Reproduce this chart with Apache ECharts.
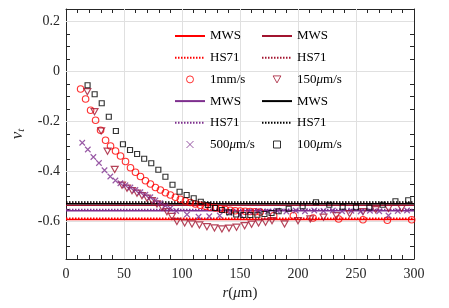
<!DOCTYPE html>
<html>
<head>
<meta charset="utf-8">
<script src="https://cdn.jsdelivr.net/npm/echarts@6/dist/echarts.min.js"></script>
<style>
html,body{margin:0;padding:0;background:#fff;}
#c{width:449px;height:308px;}
</style>
</head>
<body>
<div id="c"></div>
<script>
// ---- data ----
const xTickLabels = [0, 50, 100, 150, 200, 250, 300];
const yTickLabels = [-0.6, -0.4, -0.2, 0, 0.2];
const lineX = [0, 300];

// horizontal model lines (MWS solid, HS71 dotted)
const mwsRed = -0.592, hsRed = -0.587;
const mwsPurple = -0.557, hsPurple = -0.552;
const mwsCrimson = -0.535, hsCrimson = -0.527;
const mwsBlack = -0.529, hsBlack = -0.522;

// 1 mm/s (red circles)
const r1mm = [12.6,16.9,21.2,25.5,29.8,34.1,38.4,42.7,47.0,51.3,55.6,59.9,64.2,68.5,72.8,77.1,81.4,85.7,90.0,94.3,98.6,102.9,107.2,111.5,115.8,120.1,124.4,128.7,133.0,137.3,141.6,145.9,150.2,154.5,158.8,163.1,167.4,179,196,213,235,256,277,298];
const v1mm = [-0.07,-0.11,-0.155,-0.195,-0.235,-0.275,-0.298,-0.318,-0.338,-0.36,-0.385,-0.403,-0.42,-0.437,-0.45,-0.464,-0.474,-0.485,-0.494,-0.503,-0.511,-0.518,-0.524,-0.53,-0.535,-0.539,-0.543,-0.546,-0.549,-0.552,-0.555,-0.557,-0.558,-0.559,-0.56,-0.561,-0.562,-0.577,-0.577,-0.586,-0.59,-0.593,-0.595,-0.593];

// 150 um/s (crimson down triangles)
const r150 = [18.4,24.6,30.3,35.8,42.0,48.3,52.6,56.9,61.2,65.5,69.8,74.1,78.4,82.7,87.0,91.3,95.6,102.3,108.6,115.0,121.5,128.0,134.4,140.5,147.0,154.0,160.0,166.0,172.0,177.6,188.4,200.0,210.6,222.0,233.0,244.5,256.0,267.0,278.0,289.3];
const v150 = [-0.081,-0.161,-0.238,-0.319,-0.392,-0.455,-0.467,-0.477,-0.487,-0.497,-0.507,-0.517,-0.53,-0.543,-0.561,-0.58,-0.6,-0.606,-0.61,-0.614,-0.621,-0.626,-0.63,-0.627,-0.623,-0.617,-0.611,-0.606,-0.603,-0.597,-0.61,-0.597,-0.59,-0.583,-0.577,-0.569,-0.561,-0.553,-0.548,-0.548];

// 500 um/s (purple crosses)
const r500 = [14.0,18.8,23.6,28.4,33.2,38.2,42.6,46.9,51.2,55.5,59.8,64.1,68.4,72.7,77.0,81.3,85.6,89.9,95.0,104.3,114.3,123.5,132.5,141.0,150.3,158,166,174,182,190,198,206,214,222,230,238,246,254,262,270,278,286,294];
const v500 = [-0.285,-0.312,-0.342,-0.366,-0.395,-0.42,-0.436,-0.447,-0.455,-0.464,-0.474,-0.483,-0.493,-0.503,-0.516,-0.527,-0.537,-0.547,-0.558,-0.572,-0.581,-0.579,-0.576,-0.565,-0.573,-0.561,-0.558,-0.56,-0.557,-0.56,-0.556,-0.559,-0.556,-0.558,-0.556,-0.559,-0.557,-0.56,-0.557,-0.559,-0.576,-0.558,-0.556];

// 100 um/s (black squares)
const r100 = [18.6,24.7,30.8,36.9,43.0,49.1,55.2,61.3,67.4,73.5,79.6,85.7,91.8,97.9,104.0,110.1,116.2,122.3,128.4,134.5,140.6,146.7,152.8,158.9,165.0,171.1,177.2,183.3,192,204,215.5,227,238.5,250,261.5,273,284,295];
const v100 = [-0.055,-0.091,-0.127,-0.181,-0.238,-0.291,-0.314,-0.33,-0.349,-0.367,-0.393,-0.421,-0.453,-0.481,-0.494,-0.507,-0.521,-0.534,-0.546,-0.554,-0.563,-0.572,-0.574,-0.574,-0.573,-0.57,-0.566,-0.559,-0.549,-0.539,-0.523,-0.533,-0.541,-0.543,-0.544,-0.533,-0.519,-0.515];

const gridX = [50, 100, 150, 200, 250];
const gridY = [0.2, 0, -0.2, -0.4, -0.6];

// ---- style ----
const RED = '#ff0000', PURPLE = '#7e2f8e', CRIMSON = '#a2142f', BLACK = '#000000';
const SERIF = '"Liberation Serif","DejaVu Serif",serif';
const AXC = '#262626';
const TRI_DOWN = 'path://M0,0L10,0L5,9Z';
const CROSS = 'path://M0,0L10,10M0,10L10,0';
const SQUARE = 'path://M0,0L10,0L10,10L0,10Z';

function zip(xs, ys){ return xs.map((x,i)=>[x, ys[i]]); }
function hline(name, v, color, dotted){
  return {
    name, type:'line', data: zip(lineX, [v, v]), symbol:'none', silent:true,
    lineStyle:{color, width: 1.6, type: dotted ? [1.5, 1.5] : 'solid'},
    itemStyle:{color}, z: 3
  };
}
function scatter(name, xs, ys, color, symbol, size){
  return {
    name, type:'scatter', data: zip(xs, ys), symbol, symbolSize: size, symbolKeepAspect:true,
    itemStyle:{color:'rgba(0,0,0,0)', borderColor: color, borderWidth: 1.15}, z: 4, silent:true
  };
}

const labels = {
  mwsR:'MWS', hsR:'HS71', s1:'1mm/s',
  mwsP:'MWS', hsP:'HS71', s500:'500{i|μ}m/s',
  mwsC:'MWS', hsC:'HS71', s150:'150{i|μ}m/s',
  mwsK:'MWS', hsK:'HS71', s100:'100{i|μ}m/s'
};

const series = [
  { name:'grid', type:'line', data:[], silent:true, z:1,
    markLine:{ silent:true, symbol:'none', label:{show:false}, z:1,
      lineStyle:{color:'#e0e0e0', width:1, type:'solid'},
      data: gridX.map(v=>({xAxis:v})).concat(gridY.map(v=>({yAxis:v}))) } },
  hline('mwsR', mwsRed, RED, false),
  hline('hsR', hsRed, RED, true),
  hline('mwsP', mwsPurple, PURPLE, false),
  hline('hsP', hsPurple, PURPLE, true),
  hline('mwsC', mwsCrimson, CRIMSON, false),
  hline('hsC', hsCrimson, CRIMSON, true),
  hline('mwsK', mwsBlack, BLACK, false),
  hline('hsK', hsBlack, BLACK, true),
  scatter('s1', r1mm, v1mm, RED, 'circle', 6.5),
  scatter('s150', r150, v150, CRIMSON, TRI_DOWN, 7),
  scatter('s500', r500, v500, PURPLE, CROSS, 5.5),
  scatter('s100', r100, v100, BLACK, SQUARE, 5)
];

function legendItems(names){
  return names.map(n => n.charAt(0) === 's'
    ? {name:n, itemStyle:{borderWidth:1}}
    : {name:n, itemStyle:{color:'rgba(0,0,0,0)', borderWidth:0, opacity:0}});
}

const legendCommon = {
  orient:'vertical', padding:0, itemWidth:30, itemHeight:7, itemGap:8.7,
  selectedMode:false,
  textStyle:{fontFamily:SERIF, fontSize:13, color:'#000',
    rich:{ i:{fontFamily:SERIF, fontSize:13, fontStyle:'italic', color:'#000'} } },
  formatter: n => labels[n]
};

const chart = echarts.init(document.getElementById('c'), null, {renderer:'canvas'});
chart.setOption({
  animation:false,
  backgroundColor:'#fff',
  grid:{left:66, right:35, top:9, bottom:49},
  legend:[
    Object.assign({left:174, top:29.5, data:legendItems(['mwsR','hsR','s1','mwsP','hsP','s500'])}, legendCommon),
    Object.assign({left:261, top:29.5, data:legendItems(['mwsC','hsC','s150','mwsK','hsK','s100'])}, legendCommon)
  ],
  xAxis:[
    { type:'value', min:0, max:300, interval:10, position:'bottom',
      axisLine:{show:true, onZero:false, lineStyle:{color:AXC, width:1}},
      axisTick:{show:true, inside:true, length:4, lineStyle:{color:AXC}},
      splitLine:{show:false},
      axisLabel:{margin:8, fontFamily:SERIF, fontSize:14, color:AXC,
        formatter: v => xTickLabels.indexOf(Math.round(v)) >= 0 ? String(Math.round(v)) : ''},
      name:'{i|r}{n|(}{i|μ}{n|m)}', nameLocation:'middle', nameGap:23,
      nameTextStyle:{fontFamily:SERIF, fontSize:15, color:AXC,
        rich:{ i:{fontFamily:SERIF, fontSize:15, fontStyle:'italic', color:AXC},
               n:{fontFamily:SERIF, fontSize:15, color:AXC} } }
    },
    { type:'value', min:0, max:300, interval:10, position:'top',
      axisLine:{show:true, onZero:false, lineStyle:{color:AXC, width:1}},
      axisTick:{show:true, inside:true, length:4, lineStyle:{color:AXC}},
      axisLabel:{show:false}, splitLine:{show:false} }
  ],
  yAxis:[
    { type:'value', min:-0.75, max:0.25, interval:0.05, position:'left',
      axisLine:{show:true, onZero:false, lineStyle:{color:AXC, width:1}},
      axisTick:{show:true, inside:true, length:4, lineStyle:{color:AXC}},
      splitLine:{show:false},
      axisLabel:{margin:6, fontFamily:SERIF, fontSize:14, color:AXC,
        formatter: v => { const k = Math.round(v*100)/100; return yTickLabels.indexOf(k) >= 0 ? String(k) : ''; }},
      name:'{v|v}{s|t}', nameLocation:'middle', nameGap:33, nameRotate:90,
      nameTextStyle:{fontFamily:SERIF, color:AXC,
        rich:{ v:{fontFamily:SERIF, fontSize:17, fontStyle:'italic', color:AXC},
               s:{fontFamily:SERIF, fontSize:11, fontStyle:'italic', color:AXC, padding:[7,0,0,0]} } }
    },
    { type:'value', min:-0.75, max:0.25, interval:0.05, position:'right',
      axisLine:{show:true, onZero:false, lineStyle:{color:AXC, width:1}},
      axisTick:{show:true, inside:true, length:4, lineStyle:{color:AXC}},
      axisLabel:{show:false}, splitLine:{show:false} }
  ],
  series: series
});
</script>
</body>
</html>
